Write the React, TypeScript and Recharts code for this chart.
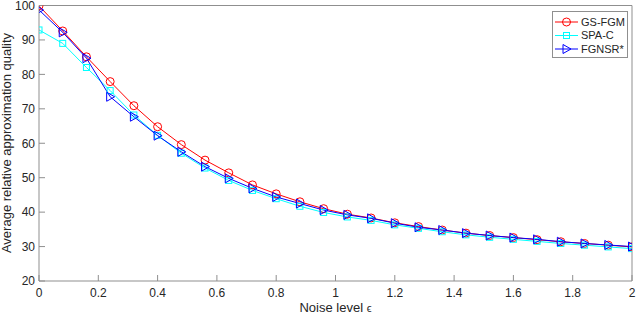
import React from "react";
import { LineChart, Line, XAxis, YAxis, Legend } from "recharts";

// noise level epsilon, 0 .. 2 in steps of 0.08
const noise = [
  0, 0.08, 0.16, 0.24, 0.32, 0.4, 0.48, 0.56, 0.64, 0.72, 0.8, 0.88, 0.96,
  1.04, 1.12, 1.2, 1.28, 1.36, 1.44, 1.52, 1.6, 1.68, 1.76, 1.84, 1.92, 2,
];

const gsFgm = [
  99.9, 92.6, 85.1, 77.9, 70.9, 64.8, 59.6, 55.1, 51.4, 47.9, 45.3, 43.0, 41.0,
  39.4, 38.3, 36.9, 35.8, 34.8, 33.9, 33.2, 32.6, 32.0, 31.4, 30.9, 30.4, 29.9,
];
const spaC = [
  92.9, 89.0, 82.0, 75.3, 68.2, 62.3, 57.1, 52.8, 49.2, 46.3, 43.9, 41.7, 39.9,
  38.6, 37.6, 36.3, 35.3, 34.3, 33.4, 32.7, 32.1, 31.5, 30.9, 30.4, 29.9, 29.4,
];
const fgnsr = [
  98.7, 92.2, 84.7, 73.5, 67.7, 62.2, 57.5, 53.2, 49.8, 46.9, 44.4, 42.5, 40.6,
  39.2, 38.2, 36.8, 35.6, 34.8, 33.9, 33.2, 32.6, 32.1, 31.4, 30.9, 30.45, 30.0,
];

const xTicks = [0, 0.2, 0.4, 0.6, 0.8, 1, 1.2, 1.4, 1.6, 1.8, 2];
const yTicks = [20, 30, 40, 50, 60, 70, 80, 90, 100];

const seriesNames = ["GS-FGM", "SPA-C", "FGNSR*"];
const RED = "#ff0000";
const CYAN = "#00ffff";
const BLUE = "#0000ff";

const FONT = '"Liberation Sans", Arial, Helvetica, sans-serif';
const AXIS = "#8f8f8f";
const TEXT = "#262626";

const data = noise.map((x, i) => ({
  x,
  gsFgm: gsFgm[i],
  spaC: spaC[i],
  fgnsr: fgnsr[i],
}));

function circleMarker(cx: number, cy: number, color: string, key?: string) {
  return <circle key={key} cx={cx} cy={cy} r={4} fill="none" stroke={color} strokeWidth={1} />;
}
function squareMarker(cx: number, cy: number, color: string, key?: string) {
  return <rect key={key} x={cx - 3} y={cy - 3} width={6} height={6} fill="none" stroke={color} strokeWidth={1} />;
}
function triangleMarker(cx: number, cy: number, color: string, key?: string) {
  const pts = `${cx - 3.5},${cy - 4.5} ${cx + 4.5},${cy} ${cx - 3.5},${cy + 4.5}`;
  return <polygon key={key} points={pts} fill="none" stroke={color} strokeWidth={1} />;
}

const markers = [
  (cx: number, cy: number, k?: string) => circleMarker(cx, cy, RED, k),
  (cx: number, cy: number, k?: string) => squareMarker(cx, cy, CYAN, k),
  (cx: number, cy: number, k?: string) => triangleMarker(cx, cy, BLUE, k),
];
const colors = [RED, CYAN, BLUE];

const dotFor = (m: number) => (p: any) => markers[m](p.cx, p.cy, `d-${m}-${p.index}`);

function LegendBox() {
  const rows = [22, 35.5, 49];
  return (
    <svg width={77} height={48} style={{ display: "block" }}>
      <rect x={0.5} y={0.5} width={75} height={46} fill="#fff" stroke={AXIS} />
      {seriesNames.map((name, i) => {
        const y = rows[i] - 11;
        return (
          <g key={name}>
            <line x1={3} x2={26} y1={y} y2={y} stroke={colors[i]} strokeWidth={1} />
            {markers[i](14.5, y)}
            <text x={29} y={y} dy="0.36em" fontSize={11} fontFamily={FONT} fill={TEXT}>
              {name}
            </text>
          </g>
        );
      })}
    </svg>
  );
}

function XLabel(props: any) {
  const vb = props.viewBox || {};
  const cx = (vb.x ?? 39) + (vb.width ?? 593) / 2;
  return (
    <text x={cx} y={312} textAnchor="middle" fontSize={13} fontFamily={FONT} fill={TEXT}>
      Noise level <tspan fontSize={11}>ϵ</tspan>
    </text>
  );
}

function YLabel() {
  return (
    <text
      x={10.5}
      y={143}
      transform="rotate(-90 10.5 143)"
      textAnchor="middle"
      fontSize={13}
      fontFamily={FONT}
      fill={TEXT}
    >
      Average relative approximation quality
    </text>
  );
}

export default function App() {
  const tickStyle = { fontSize: 12, fontFamily: FONT, fill: TEXT };
  return (
    <div style={{ position: "absolute", left: 0, top: 0, width: 640, height: 315, background: "#fff" }}>
      <LineChart width={640} height={315} data={data} margin={{ top: 4.5, right: 7, bottom: 0, left: 0 }}>
        <XAxis
          dataKey="x"
          type="number"
          domain={[0, 2]}
          ticks={xTicks}
          tickFormatter={(v: number) => String(Number(v.toFixed(1)))}
          height={34}
          tickSize={-6}
          tickMargin={13}
          stroke={AXIS}
          tick={tickStyle}
          interval={0}
          allowDataOverflow
          label={<XLabel />}
        />
        <XAxis
          xAxisId="top"
          orientation="top"
          dataKey="x"
          type="number"
          domain={[0, 2]}
          ticks={xTicks}
          height={1}
          tickSize={-6}
          stroke={AXIS}
          tick={false}
          interval={0}
        />
        <YAxis
          type="number"
          domain={[20, 100]}
          ticks={yTicks}
          width={39}
          tickSize={-6}
          tickMargin={10}
          stroke={AXIS}
          tick={tickStyle}
          interval={0}
          allowDataOverflow
          label={<YLabel />}
        />
        <YAxis
          yAxisId="right"
          orientation="right"
          type="number"
          domain={[20, 100]}
          ticks={yTicks}
          width={1}
          tickSize={-6}
          stroke={AXIS}
          tick={false}
          interval={0}
        />
        <Legend
          layout="vertical"
          align="center"
          verticalAlign="middle"
          content={() => <LegendBox />}
          wrapperStyle={{ position: "absolute", left: 552, top: 11, width: 77, height: 48 }}
        />
        <Line
          xAxisId="top"
          yAxisId="right"
          dataKey="fgnsr"
          stroke="none"
          dot={false}
          activeDot={false}
          legendType="none"
          isAnimationActive={false}
        />
        <Line
          dataKey="gsFgm"
          name="GS-FGM"
          stroke={RED}
          strokeWidth={1}
          type="linear"
          dot={dotFor(0)}
          activeDot={false}
          isAnimationActive={false}
        />
        <Line
          dataKey="spaC"
          name="SPA-C"
          stroke={CYAN}
          strokeWidth={1}
          type="linear"
          dot={dotFor(1)}
          activeDot={false}
          isAnimationActive={false}
        />
        <Line
          dataKey="fgnsr"
          name="FGNSR*"
          stroke={BLUE}
          strokeWidth={1}
          type="linear"
          dot={dotFor(2)}
          activeDot={false}
          isAnimationActive={false}
        />
      </LineChart>
    </div>
  );
}
